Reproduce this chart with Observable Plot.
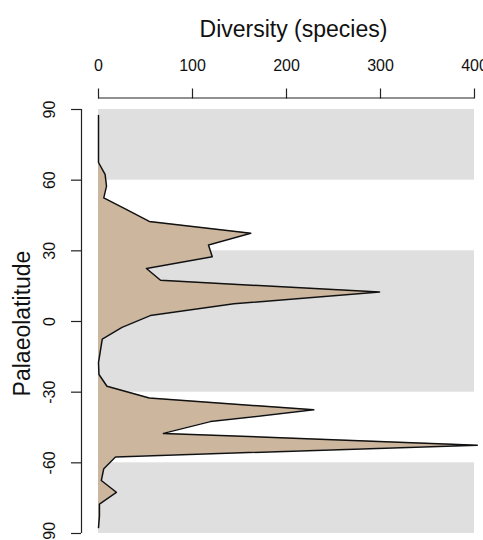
<!DOCTYPE html>
<html>
<head>
<meta charset="utf-8">
<script src="https://cdn.jsdelivr.net/npm/d3@7"></script>
<script src="https://cdn.jsdelivr.net/npm/@observablehq/plot@0.6"></script>
<style>
  html, body { margin: 0; padding: 0; background: #ffffff; }
  #chart svg { display: block; font-family: "Liberation Sans", Arial, Helvetica, sans-serif; }
</style>
</head>
<body>
<div id="chart"></div>
<script>
// Palaeolatitude bin centres (degrees)
const latitudes = [87.5, 82.5, 77.5, 72.5, 67.5, 62.5, 57.5, 52.5, 47.5, 42.5, 37.5, 32.5,
  27.5, 22.5, 17.5, 12.5, 7.5, 2.5, -2.5, -7.5, -12.5, -17.5, -22.5, -27.5,
  -32.5, -37.5, -42.5, -47.5, -52.5, -57.5, -62.5, -67.5, -72.5, -77.5, -82.5, -87.5];
// Diversity (species) per bin
const diversity = [0, 0, 0, 0, 0, 7, 8.5, 5.6, 30, 54, 162, 117,
  121, 51, 66, 299, 144, 55, 25, 4, 2, 0, 0.5, 9,
  54, 229, 119, 69, 403, 18, 5.6, 3, 19, 1, 1, 0];
// Shaded latitude bands (polar and tropical)
const bandLow = [60, -30, -90];
const bandHigh = [90, 30, -60];
// Axis ticks
const xTicks = [0, 100, 200, 300, 400];
const yTicks = [90, 60, 30, 0, -30, -60, -90];
const xTitle = "Diversity (species)";
const yTitle = "Palaeolatitude";

const data = latitudes.map((lat, i) => ({lat, div: diversity[i]}));
const bands = bandLow.map((lo, i) => ({lo, hi: bandHigh[i]}));

const chart = Plot.plot({
  width: 483,
  height: 540,
  marginLeft: 98,
  marginRight: 9,
  marginTop: 109,
  marginBottom: 7,
  clip: false,
  style: {background: "#ffffff", color: "#000000", fontFamily: "'Liberation Sans', Arial, Helvetica, sans-serif"},
  x: {domain: [xTicks[0], xTicks[xTicks.length - 1]]},
  y: {domain: [yTicks[yTicks.length - 1], yTicks[0]]},
  marks: [
    Plot.rect(bands, {y1: "lo", y2: "hi", fill: "#dfdfdf"}),
    Plot.areaX(data, {x: "div", y: "lat", fill: "#cdb69e"}),
    Plot.lineX(data, {x: "div", y: "lat", stroke: "#111111", strokeWidth: 1.5}),
    // top x axis: line, ticks, labels, title
    Plot.ruleY([yTicks[0]], {x1: xTicks[0], x2: xTicks[xTicks.length - 1], dy: -11.5, stroke: "#222", strokeWidth: 1.2}),
    Plot.axisX({anchor: "top", ticks: xTicks, tickSize: 10, dy: -11.5, fill: "none", stroke: "#222", strokeWidth: 1.2, label: null}),
    Plot.text(xTicks, {x: d => d, frameAnchor: "top", dy: -43.4, text: d => String(d), fontSize: 16, fill: "#111", textAnchor: "middle", lineAnchor: "middle"}),
    Plot.text([xTitle], {frameAnchor: "top", dx: 7, dy: -79.5, text: d => d, fontSize: 23, fill: "#111", textAnchor: "middle", lineAnchor: "middle"}),
    // left y axis: line, ticks, labels, title
    Plot.ruleX([xTicks[0]], {y1: yTicks[yTicks.length - 1], y2: yTicks[0], dx: -17, stroke: "#222", strokeWidth: 1.2}),
    Plot.axisY({anchor: "left", ticks: yTicks, tickSize: 10, dx: -17, fill: "none", stroke: "#222", strokeWidth: 1.2, label: null}),
    Plot.text(yTicks, {y: d => d, frameAnchor: "left", dx: -49, text: d => String(d), rotate: -90, fontSize: 16, fill: "#111", textAnchor: "middle", lineAnchor: "middle"}),
    Plot.text([yTitle], {frameAnchor: "left", dx: -75.5, dy: 2, text: d => d, rotate: -90, fontSize: 23, fill: "#111", textAnchor: "middle", lineAnchor: "middle"})
  ]
});
document.getElementById("chart").appendChild(chart);
</script>
</body>
</html>
